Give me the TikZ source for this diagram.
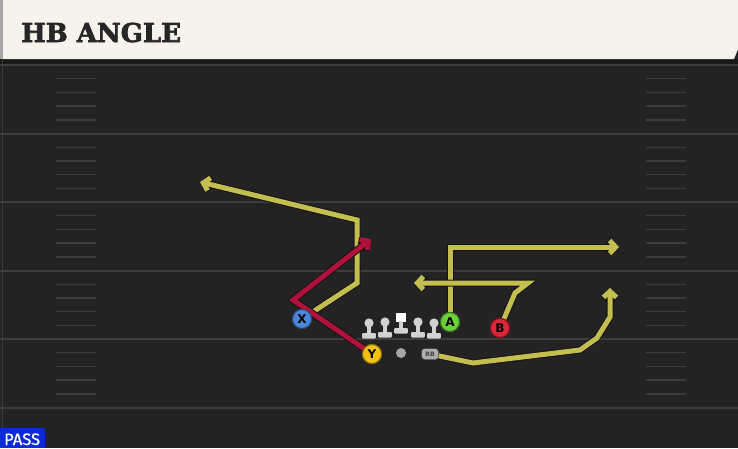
\documentclass[tikz,border=0pt]{standalone}
\usepackage{fontspec}
\setmainfont{DejaVu Sans}
\newfontfamily\titlefont[BoldFeatures={FakeBold=2.5}]{DejaVu Serif}
\newfontfamily\tagfont[FakeBold=0.6]{Fira Sans}
\usepackage{xcolor}
\usetikzlibrary{arrows.meta,positioning}

\definecolor{field}{HTML}{232323}
\definecolor{fieldline}{HTML}{3C3C3C}
\definecolor{titlebg}{HTML}{F5F3EC}
\definecolor{routeyel}{HTML}{C4BD4F}
\definecolor{routered}{HTML}{B0113A}
\definecolor{routeedge}{HTML}{141414}
\definecolor{passblue}{HTML}{0B2BD8}
\definecolor{olgray}{HTML}{D2D2D2}
\definecolor{xblue}{HTML}{4A86D8}
\definecolor{yyellow}{HTML}{F2C21B}
\definecolor{agreen}{HTML}{6CD03A}
\definecolor{bred}{HTML}{E0253A}

\tikzset{
  player/.style={circle,draw=#1!55!black,fill=#1,line width=1pt,minimum size=19pt,inner sep=0pt,font=\bfseries\fontsize{12}{12}\selectfont,text=black},
  route/.style={draw=#1,line width=5pt,-{Straight Barb[length=6pt,width=13pt]},preaction={draw=routeedge,line width=7pt}},
  hashmark/.style={draw=fieldline,line width=1.4pt},
  lineman/.pic={
    \fill[olgray] (0,0) circle (4.6);
    \fill[olgray] (-2,3) rectangle (2,11);
    \fill[olgray,rounded corners=1pt] (-6.8,10) rectangle (6.8,15.5);
  },
  centerman/.pic={
    \fill[white] (-4.8,-4.8) rectangle (4.8,4.2);
    \fill[olgray] (-2,3) rectangle (2,11);
    \fill[olgray,rounded corners=1pt] (-6.8,10) rectangle (6.8,15.5);
  }
}

\begin{document}
\begin{tikzpicture}[x=1pt,y=-1pt]
  \useasboundingbox (0,0) rectangle (738,448);
  % field
  \fill[field] (0,0) rectangle (738,448);
  \fill[black!90] (0,59) rectangle (738,65);
  \draw[fieldline,line width=1pt] (2,59) -- (2,448);
  \foreach \yl in {0,...,5}
    \draw[fieldline,line width=2pt] (0,65+68.5*\yl) -- (738,65+68.5*\yl);
  \foreach \yl in {0,...,4}
    \foreach \k in {1,...,4} {
      \draw[hashmark] (56,65+68.5*\yl+13.7*\k) -- (96,65+68.5*\yl+13.7*\k);
      \draw[hashmark] (646,65+68.5*\yl+13.7*\k) -- (686,65+68.5*\yl+13.7*\k);
    }

  % title bar
  \fill[titlebg] (3,0) -- (738,0) -- (738,49) -- (734,59) -- (3,59) -- cycle;
  \fill[gray!70] (0,0) rectangle (3,59);
  \node[anchor=base west,inner sep=0pt,font=\titlefont\bfseries\fontsize{26}{26}\selectfont,text=black!85] (title) at (21,42) {HB ANGLE};

  % pass tag
  \fill[passblue] (0,428) rectangle (45,448);
  \node[anchor=base west,inner sep=0pt,font=\tagfont\fontsize{16.5}{16.5}\selectfont,text=white] (tag) at (4,445) {PASS};

  % offense
  \node[player=xblue] (x) at (302,319) {X};
  \node[player=yyellow] (y) at (372,354) {Y};
  \node[player=agreen] (a) at (450,322) {A};
  \node[player=bred] (b) at (500,328) {B};
  \node[circle,fill=gray!70,minimum size=10pt,inner sep=0pt] (qb) at (401,353) {};
  \node[draw=black!80,fill=gray!65,rounded corners=3pt,minimum width=17pt,minimum height=11pt,inner sep=0pt,font=\bfseries\fontsize{6}{6}\selectfont,text=black!75] (rb) at (430,354) {RB};
  \pic (lt) at (369,323) {lineman};
  \pic (lg) at (385,322) {lineman};
  \pic (c) at (401,318) {centerman};
  \pic (rg) at (418,322) {lineman};
  \pic (rt) at (434,323) {lineman};

  % routes
  \draw[route=routeyel] (x) -- (357,283) -- (357,220) -- (200,182);
  \draw[route=routered] (y) -- (293,300) -- (371,239);
  \draw[route=routeyel] (a) -- (450,247) -- (619,247);
  \draw[route=routeyel] (b) -- (515,293) -- (528,283) -- (414,283);
  \draw[route=routeyel] (rb) -- (473,363) -- (580,350) -- (597,338) -- (610,317) -- (610,288);

  % redraw players over routes
  \node[player=xblue] at (x) {X};
  \node[player=yyellow] at (y) {Y};
  \node[player=agreen] at (a) {A};
  \node[player=bred] at (b) {B};
\end{tikzpicture}
\end{document}
